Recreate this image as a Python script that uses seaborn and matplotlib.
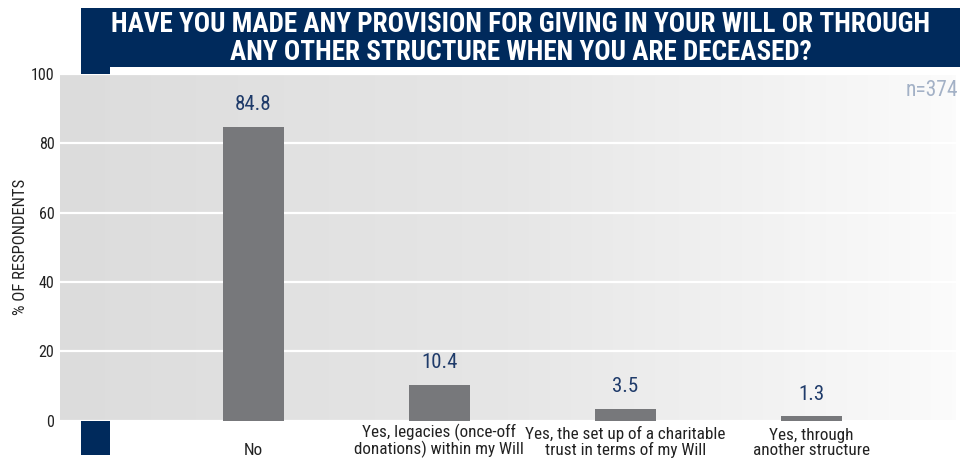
import numpy as np
import matplotlib
matplotlib.use("Agg")
import matplotlib.pyplot as plt
import seaborn as sns
from matplotlib.colors import LinearSegmentedColormap
from matplotlib.patches import Rectangle

categories = [
    "No",
    "Yes, legacies (once-off\ndonations) within my Will",
    "Yes, the set up of a charitable\ntrust in terms of my Will",
    "Yes, through\nanother structure",
]
values = [84.8, 10.4, 3.5, 1.3]
yticks = [0, 20, 40, 60, 80, 100]
title = "HAVE YOU MADE ANY PROVISION FOR GIVING IN YOUR WILL OR THROUGH\nANY OTHER STRUCTURE WHEN YOU ARE DECEASED?"
ylabel = "% OF RESPONDENTS"
note = "n=374"

sns.set_theme(style="white")
plt.rcParams["font.family"] = ["Roboto Condensed", "DejaVu Sans"]
plt.rcParams["font.stretch"] = "condensed"

W, H = 976, 458
fig = plt.figure(figsize=(W / 100, H / 100), dpi=100)
fig.patch.set_facecolor("white")

NAVY = "#002a5c"

def fx(px):
    return px / W

def fy(py):
    return 1 - py / H

fig.add_artist(Rectangle((fx(81), fy(67)), fx(960) - fx(81), fy(8) - fy(67),
                         transform=fig.transFigure, facecolor=NAVY, edgecolor="none", zorder=-2))
fig.add_artist(Rectangle((fx(81), fy(455)), fx(110) - fx(81), fy(67) - fy(455),
                         transform=fig.transFigure, facecolor=NAVY, edgecolor="none", zorder=-2))

ax = fig.add_axes([fx(60), fy(420.7), fx(956) - fx(60), fy(73.9) - fy(420.7)])

sns.barplot(x=categories, y=values, color="#77787b", saturation=1, width=0.33, ax=ax,
            linewidth=0, zorder=2)

xl = (-1.039, 3.778)
cmap = LinearSegmentedColormap.from_list("bg", ["#dcdcdc", "#e6e6e6", "#fbfbfb"])
ax.imshow(np.linspace(0, 1, 256).reshape(1, -1), cmap=cmap, extent=[xl[0], xl[1], 0, 100],
          aspect="auto", zorder=0)
ax.set_xlim(*xl)
ax.set_ylim(0, 100)
ax.set_yticks(yticks)
ax.set_axisbelow(True)
ax.grid(axis="y", color="white", linewidth=1.6)
ax.grid(axis="x", visible=False)
for s in ax.spines.values():
    s.set_visible(False)

ax.tick_params(axis="y", length=0, pad=4, labelsize=11.5, labelcolor="#222222")
ax.tick_params(axis="x", length=0, pad=26.5, labelsize=12.3, labelcolor="#222222")
for lab in ax.get_xticklabels():
    lab.set_verticalalignment("bottom")
    lab.set_linespacing(0.95)

ax.set_ylabel(ylabel, fontsize=12, color="#222222")
ax.yaxis.set_label_coords(-0.036, 0.5)
ax.set_xlabel("")

ax.bar_label(ax.containers[0], fmt="%.1f", padding=9, fontsize=15, color="#1f3b6a")

fig.text(fx(520.5), fy(38.5), title, ha="center", va="center", color="white",
         fontsize=19.5, fontweight="bold", linespacing=1.04)
fig.text(fx(958), fy(90), note, ha="right", va="center", color="#a3b1c6", fontsize=15.5)

fig.savefig("out.png", dpi=100)
